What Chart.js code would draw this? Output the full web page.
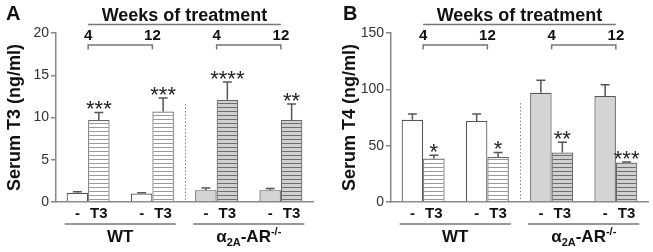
<!DOCTYPE html>
<html><head><meta charset="utf-8">
<script src="https://cdn.jsdelivr.net/npm/chart.js@4/dist/chart.umd.min.js"></script>
<style>
html,body{margin:0;padding:0;background:#fff;}
#wrap{position:relative;width:653px;height:252px;overflow:hidden;}
.p{position:absolute;top:0;height:252px;}
canvas{display:block;}
</style></head><body>
<div id="wrap">
<div class="p" style="left:0;width:326px"><canvas id="cA" width="326" height="252"></canvas></div>
<div class="p" style="left:326px;width:327px"><canvas id="cB" width="327" height="252"></canvas></div>
</div>
<script>
// ---- data ----
const groups = ['WT 4 wk', 'WT 12 wk', 'α2A-AR-/- 4 wk', 'α2A-AR-/- 12 wk'];
const weekLabels = ['4', '12', '4', '12'];
const barLabels = ['-', 'T3'];
const genotypeLabels = ['WT', 'α2A-AR-/-'];

const t3Control    = [1.1, 1.0, 1.4, 1.4];
const t3ControlSem = [0.1, 0.08, 0.25, 0.2];
const t3Treated    = [9.7, 10.7, 12.1, 9.7];
const t3TreatedSem = [0.9, 1.6, 2.1, 1.9];
const t3Stars      = ['***', '***', '****', '**'];
const t3Ticks      = [0, 5, 10, 15, 20];

const t4Control    = [73, 72, 97, 94];
const t4ControlSem = [5, 6, 11, 10];
const t4Treated    = [38.5, 40, 44, 35];
const t4TreatedSem = [3, 4, 9, 0.6];
const t4Stars      = ['*', '*', '**', '***'];
const t4Ticks      = [0, 50, 100, 150];

const FONT = '"Liberation Sans", Arial, sans-serif';

function stripes(ctx, bg, line) {
  const c = document.createElement('canvas');
  c.width = 4; c.height = 4;
  const x = c.getContext('2d');
  x.fillStyle = bg; x.fillRect(0, 0, 4, 4);
  x.fillStyle = line; x.fillRect(0, 3, 4, 1);
  return ctx.createPattern(c, 'repeat');
}

function drawGenotype(ctx, label, cx, y) {
  let parts;
  if (label.startsWith('α2A')) {
    parts = [
      {t: 'α', f: 'bold 17px ' + FONT, dy: 0},
      {t: '2A', f: 'bold 11px ' + FONT, dy: 4},
      {t: '-AR', f: 'bold 17px ' + FONT, dy: 0},
      {t: '-/-', f: 'bold 11px ' + FONT, dy: -7}
    ];
  } else {
    parts = [{t: label, f: 'bold 17px ' + FONT, dy: 0}];
  }
  let w = 0;
  parts.forEach(p => { ctx.font = p.f; p.w = ctx.measureText(p.t).width; w += p.w; });
  let x = cx - w / 2;
  ctx.textAlign = 'left';
  parts.forEach(p => { ctx.font = p.f; ctx.fillText(p.t, x, y + p.dy); x += p.w; });
}

function makePlugin(cfg) {
  return {
    id: 'ann' + cfg.letter,
    afterDraw(chart) {
      const ctx = chart.ctx, xs = chart.scales.x, ys = chart.scales.y;
      const m0 = chart.getDatasetMeta(0), m1 = chart.getDatasetMeta(1);
      ctx.save();
      // error bars
      [[m0, cfg.ctrl, cfg.ctrlSem], [m1, cfg.trt, cfg.trtSem]].forEach(([m, v, s]) => {
        m.data.forEach((b, i) => {
          const top = ys.getPixelForValue(v[i] + s[i]);
          const base = ys.getPixelForValue(v[i]);
          ctx.strokeStyle = '#555'; ctx.lineWidth = 1.5;
          ctx.beginPath();
          ctx.moveTo(b.x, base); ctx.lineTo(b.x, top);
          ctx.moveTo(b.x - 4.5, top); ctx.lineTo(b.x + 4.5, top);
          ctx.stroke();
        });
      });
      // stars
      ctx.fillStyle = '#222';
      ctx.font = '22px ' + FONT;
      ctx.textAlign = 'center'; ctx.textBaseline = 'alphabetic';
      m1.data.forEach((b, i) => {
        const top = ys.getPixelForValue(cfg.trt[i] + cfg.trtSem[i]);
        ctx.fillText(cfg.stars[i], b.x, top + 4);
      });
      // dotted separator
      const sx = (xs.getPixelForValue(1) + xs.getPixelForValue(2)) / 2;
      ctx.strokeStyle = '#888'; ctx.lineWidth = 1; ctx.setLineDash([1.5, 2]);
      ctx.beginPath();
      ctx.moveTo(Math.round(sx) + 0.5, ys.getPixelForValue(cfg.sepTop));
      ctx.lineTo(Math.round(sx) + 0.5, ys.bottom);
      ctx.stroke();
      ctx.setLineDash([]);
      // top annotations
      const px = i => xs.getPixelForValue(i);
      ctx.fillStyle = '#111';
      ctx.font = 'bold 18px ' + FONT;
      ctx.textAlign = 'center';
      ctx.fillText('Weeks of treatment', (px(0) + px(3)) / 2, 21);
      ctx.strokeStyle = '#777'; ctx.lineWidth = 1.5;
      ctx.beginPath(); ctx.moveTo(px(0), 24.5); ctx.lineTo(px(3), 24.5); ctx.stroke();
      ctx.font = 'bold 15px ' + FONT;
      weekLabels.forEach((w, i) => ctx.fillText(w, px(i), 40));
      [[0, 1], [2, 3]].forEach(([a, b]) => {
        ctx.beginPath();
        ctx.moveTo(px(a), 49.5); ctx.lineTo(px(a), 45); ctx.lineTo(px(b), 45); ctx.lineTo(px(b), 49.5);
        ctx.stroke();
      });
      // bottom labels
      ctx.font = 'bold 15px ' + FONT;
      m0.data.forEach((b, i) => ctx.fillText(barLabels[0], b.x, 218));
      m1.data.forEach((b, i) => ctx.fillText(barLabels[1], b.x, 218));
      genotypeLabels.forEach((g, k) => {
        const bl = m0.data[2 * k], br = m1.data[2 * k + 1];
        const l = bl.x - bl.width / 2 - 2, r = br.x + br.width / 2 + 2;
        ctx.strokeStyle = '#777'; ctx.lineWidth = 1.5;
        ctx.beginPath(); ctx.moveTo(l, 224); ctx.lineTo(r, 224); ctx.stroke();
        ctx.fillStyle = '#111';
        drawGenotype(ctx, g, (l + r) / 2, 242);
      });
      // panel letter
      ctx.textAlign = 'left';
      ctx.font = 'bold 20px ' + FONT;
      ctx.fillText(cfg.letter, cfg.letterX, 20);
      // y title
      ctx.translate(cfg.titleX, (ys.top + ys.bottom) / 2);
      ctx.rotate(-Math.PI / 2);
      ctx.textAlign = 'center'; ctx.textBaseline = 'middle';
      ctx.font = 'bold 18px ' + FONT;
      ctx.fillText(cfg.title, 0, 0);
      ctx.restore();
    }
  };
}

function build(id, cfg) {
  const canvas = document.getElementById(id);
  const ctx = canvas.getContext('2d');
  const ctrlColors = ['#ffffff', '#ffffff', '#d4d4d4', '#d4d4d4'];
  const wtPat = stripes(ctx, '#ffffff', '#9a9a9a');
  const koPat = stripes(ctx, '#d0d0d0', '#6e6e6e');
  const trtColors = [wtPat, wtPat, koPat, koPat];
  new Chart(ctx, {
    type: 'bar',
    data: {
      labels: groups,
      datasets: [
        {label: barLabels[0], data: cfg.ctrl, backgroundColor: ctrlColors, borderColor: '#555', borderWidth: 1.2,
         categoryPercentage: 0.668, barPercentage: 1.0},
        {label: barLabels[1], data: cfg.trt, backgroundColor: trtColors, borderColor: '#666', borderWidth: 1.2,
         categoryPercentage: 0.668, barPercentage: 1.0}
      ]
    },
    options: {
      responsive: false, animation: false,
      layout: {padding: {left: 0, right: cfg.padRight, top: 33, bottom: 50}},
      plugins: {legend: {display: false}, tooltip: {enabled: false}},
      scales: {
        x: {
          type: 'category',
          grid: {display: false, drawTicks: false},
          border: {display: true, color: '#888', width: 1.5},
          ticks: {display: false},
          afterFit: s => { s.height = 0; }
        },
        y: {
          min: 0, max: cfg.ticks[cfg.ticks.length - 1],
          afterBuildTicks: s => { s.ticks = cfg.ticks.map(v => ({value: v})); },
          grid: {drawOnChartArea: false, drawTicks: true, tickLength: 5, color: '#888', lineWidth: 1.5},
          border: {display: true, color: '#888', width: 1.5},
          ticks: {padding: 2, color: '#333', font: {family: FONT, size: 14}},
          afterFit: s => { s.width = cfg.axisLeft; }
        }
      }
    },
    plugins: [makePlugin(cfg)]
  });
}

build('cA', {letter: 'A', letterX: 6, title: 'Serum T3 (ng/ml)', titleX: 15, axisLeft: 56, padRight: 13,
  ctrl: t3Control, ctrlSem: t3ControlSem, trt: t3Treated, trtSem: t3TreatedSem, stars: t3Stars, ticks: t3Ticks, sepTop: 11.6});
build('cB', {letter: 'B', letterX: 17, title: 'Serum T4 (ng/ml)', titleX: 24, axisLeft: 65, padRight: 5,
  ctrl: t4Control, ctrlSem: t4ControlSem, trt: t4Treated, trtSem: t4TreatedSem, stars: t4Stars, ticks: t4Ticks, sepTop: 87.8});
</script>
</body></html>
